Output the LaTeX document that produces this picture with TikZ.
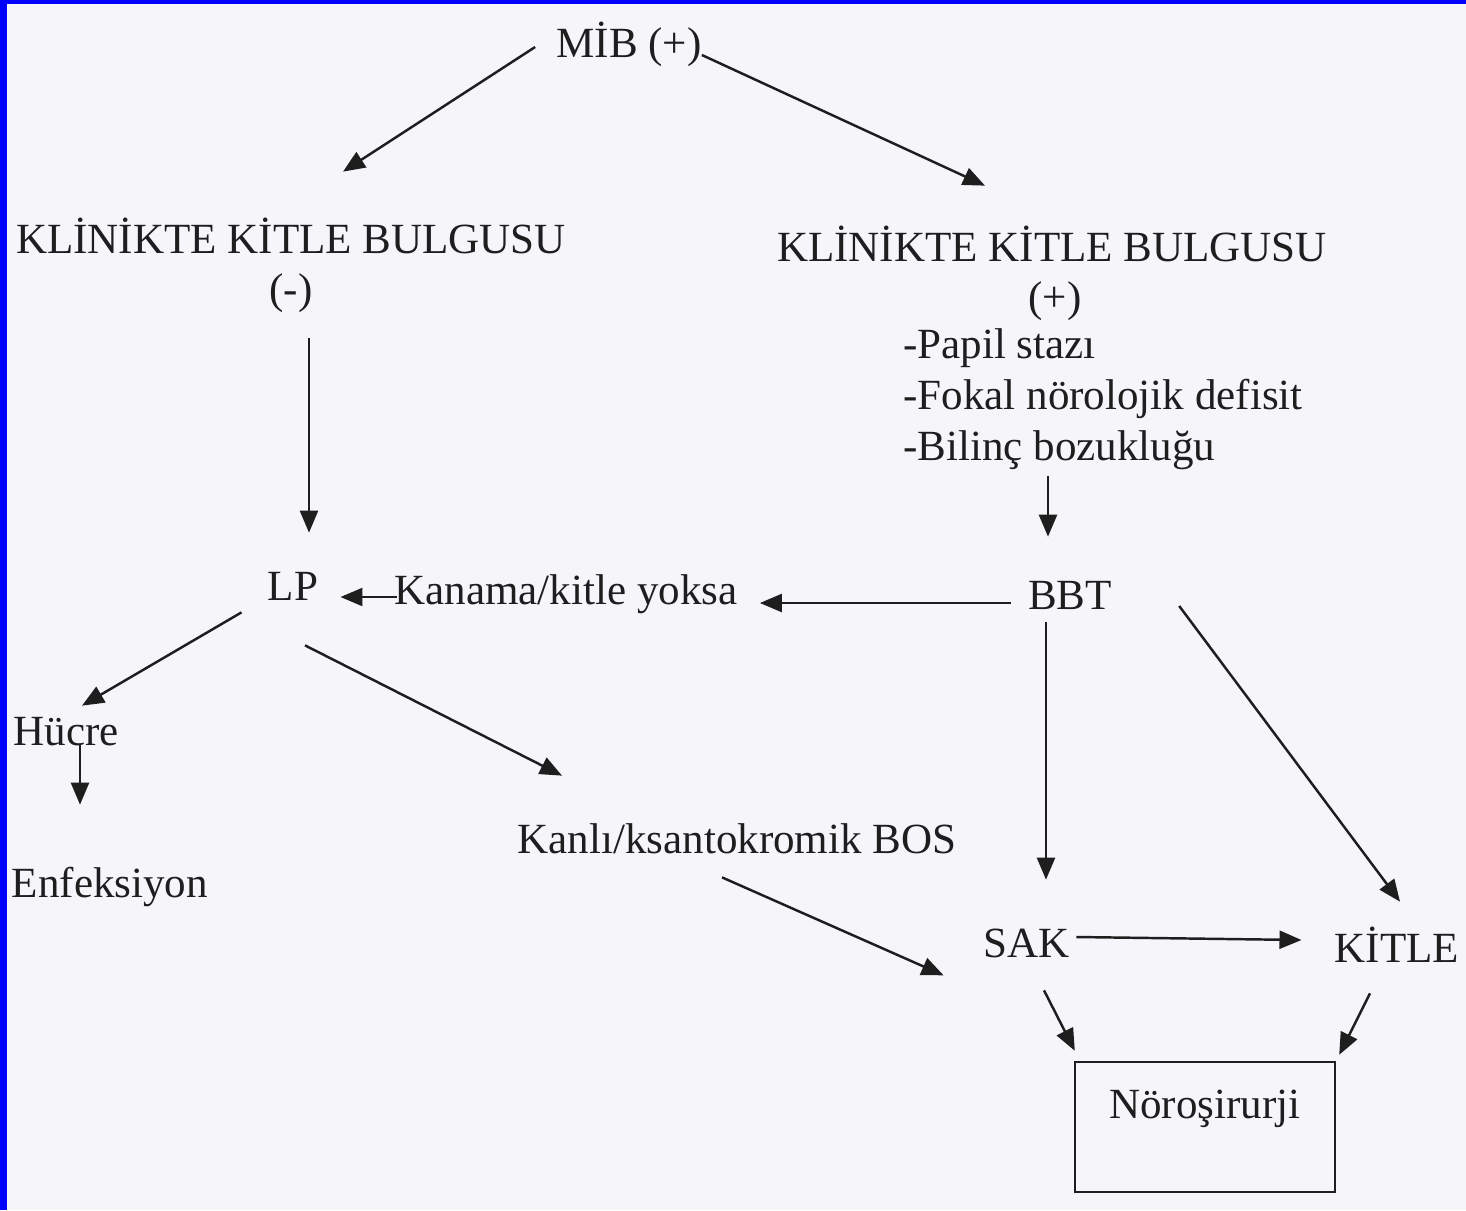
\documentclass[tikz,border=0pt]{standalone}
\usepackage{fontspec}
\setmainfont{Liberation Serif}
\usetikzlibrary{arrows.meta}

\begin{document}
\begin{tikzpicture}[x=0.02cm,y=-0.02cm,
  txt/.style={inner sep=0pt,text=inkgray,font=\fontsize{24.5}{29}\selectfont},
  lbl/.style={txt,text height=0.62cm,text depth=0.18cm,anchor=base},
  arr/.style={draw=inkgray,line width=1.4pt,-{Triangle[length=0.44cm,width=0.36cm]}}]

% Colors
\definecolor{inkgray}{RGB}{30,30,30}
\definecolor{paper}{RGB}{246,245,250}
\definecolor{frameblue}{RGB}{0,0,255}

% Page and frame
\fill[paper] (0,0) rectangle (1466,1210);
\fill[frameblue] (0,0) rectangle (7,1210);
\fill[frameblue] (0,0) rectangle (1466,4);
\useasboundingbox (0,0) rectangle (1466,1210);

% Labels
\node[lbl] (mib) at (629,57) {MİB (+)};

\node[lbl] (kneg) at (291,253) {KLİNİKTE KİTLE BULGUSU};
\node[lbl] (knegsign) at (291,303) {(-)};
\node[lbl] (kpos) at (1052,261) {KLİNİKTE KİTLE BULGUSU};
\node[lbl] (kpossign) at (1055,311) {(+)};
\node[txt,align=left,anchor=base west] (signs) at (903,460)
  {-Papil stazı\\-Fokal nörolojik defisit\\-Bilinç bozukluğu};

\node[lbl] (lp) at (293,600) {LP};
\node[lbl] (kanama) at (566,604) {Kanama/kitle yoksa};
\node[lbl] (bbt) at (1070,609) {BBT};

\node[lbl] (hucre) at (66,745) {Hücre};
\node[lbl] (enf) at (110,897) {Enfeksiyon};
\node[lbl] (kanli) at (737,853) {Kanlı/ksantokromik BOS};

\node[lbl] (sak) at (1027,957) {SAK};
\node[lbl] (kitle) at (1397,962) {KİTLE};
\node[lbl,draw=inkgray,line width=1.4pt,minimum width=5.2cm,minimum height=2.6cm,
  text depth=0.98cm,anchor=center] (noro) at (1205,1127) {Nöroşirurji};

% Arrows from the top
\draw[arr] ([shift={(-21,1)}]mib.west) -- ([shift={(52,-50)}]kneg.north);
\draw[arr] ([shift={(0,9)}]mib.east) -- ([shift={(-67,-44)}]kpos.north);

% Left branch
\draw[arr] ([shift={(18,26)}]knegsign.south) -- ([shift={(16,-36)}]lp.north);
\draw[arr] ([shift={(-26,3)}]lp.south west) -- ([shift={(16,-8)}]hucre.north);
\draw[arr] ([shift={(12,36)}]lp.south) -- ([shift={(-175,-46)}]kanli.north);
\draw[arr] ([shift={(14,0)}]hucre.base) -- ([shift={(-30,-61)}]enf.north);

% Right branch
\draw[arr] ([shift={(-22,6)}]bbt.north |- signs.south) -- ([shift={(-22,-41)}]bbt.north);
\draw[arr] ([shift={(-17,5)}]bbt.west) -- ([shift={(22,5)}]bbt.west -| kanama.east);
\draw[arr] ([shift={(3,4)}]kanama.west) -- ([shift={(22,4)}]kanama.west -| lp.east);
\draw[arr] ([shift={(-24,4)}]bbt.south) -- ([shift={(19,-46)}]sak.north);
\draw[arr] ([shift={(67,8)}]bbt.east) -- ([shift={(3,-29)}]kitle.north);

% Bottom
\draw[arr] ([shift={(-15,15)}]kanli.south) -- ([shift={(-40,9)}]sak.south west);
\draw[arr] ([shift={(6,-9)}]sak.east) -- ([shift={(-33,-11)}]kitle.west);
\draw[arr] ([shift={(17,24)}]sak.south) -- ([shift={(1,-10)}]noro.north west);
\draw[arr] ([shift={(-27,22)}]kitle.south) -- ([shift={(3,-6)}]noro.north east);

\end{tikzpicture}
\end{document}
